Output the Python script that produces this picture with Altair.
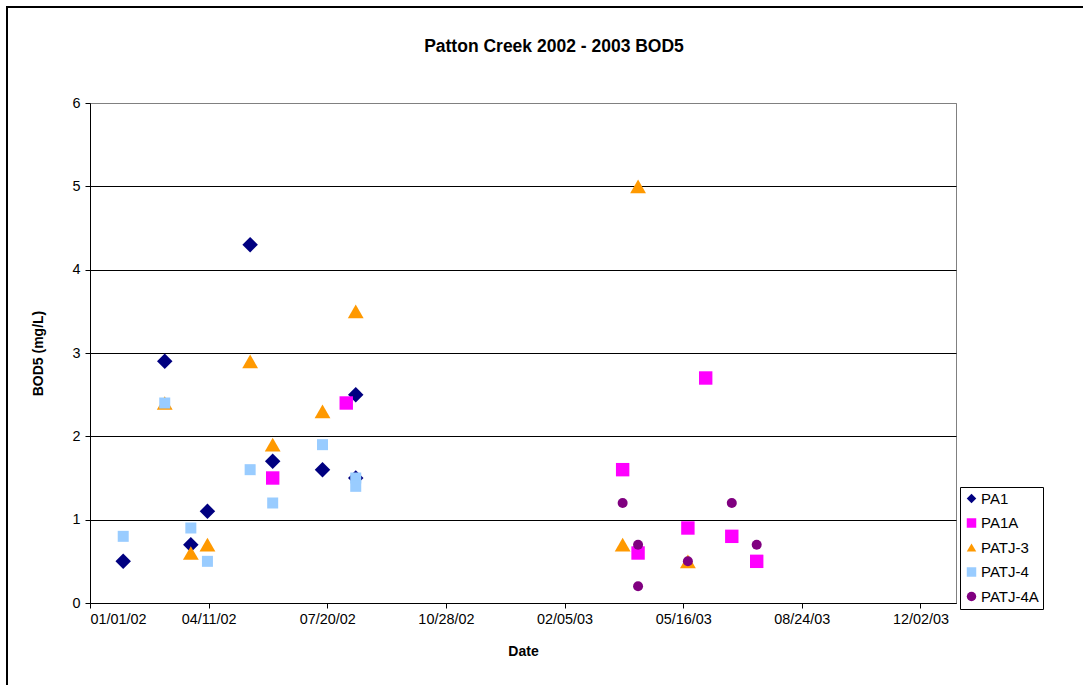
import altair as alt
import pandas as pd

series_names = ["PA1", "PA1A", "PATJ-3", "PATJ-4", "PATJ-4A"]
series_colors = ["#000080", "#FF00FF", "#FF9900", "#99CCFF", "#800080"]
series_shapes = ["diamond", "square", "triangle-up", "square", "circle"]
series_sizes = [240, 180, 250, 121, 100]

pa1_dates = ["2002-01-29", "2002-03-05", "2002-03-27", "2002-04-10", "2002-05-16",
             "2002-06-04", "2002-07-16", "2002-08-13", "2002-08-13"]
pa1_vals = [0.5, 2.9, 0.7, 1.1, 4.3, 1.7, 1.6, 2.5, 1.5]

pa1a_dates = ["2002-06-04", "2002-08-05", "2003-03-26", "2003-04-08", "2003-05-20",
              "2003-06-04", "2003-06-26", "2003-07-17"]
pa1a_vals = [1.5, 2.4, 1.6, 0.6, 0.9, 2.7, 0.8, 0.5]

patj3_dates = ["2002-03-05", "2002-03-27", "2002-04-10", "2002-05-16", "2002-06-04",
               "2002-07-16", "2002-08-13", "2003-03-26", "2003-04-08", "2003-05-20"]
patj3_vals = [2.4, 0.6, 0.7, 2.9, 1.9, 2.3, 3.5, 0.7, 5.0, 0.5]

patj4_dates = ["2002-01-29", "2002-03-05", "2002-03-27", "2002-04-10", "2002-05-16",
               "2002-06-04", "2002-07-16", "2002-08-13", "2002-08-13"]
patj4_vals = [0.8, 2.4, 0.9, 0.5, 1.6, 1.2, 1.9, 1.5, 1.4]

patj4a_dates = ["2003-03-26", "2003-04-08", "2003-04-08", "2003-05-20", "2003-06-26", "2003-07-17"]
patj4a_vals = [1.2, 0.7, 0.2, 0.5, 1.2, 0.7]

y_ticks = [0, 1, 2, 3, 4, 5, 6]
x_tick_dates = [(2002, 1, 1), (2002, 4, 11), (2002, 7, 20), (2002, 10, 28),
                (2003, 2, 5), (2003, 5, 16), (2003, 8, 24), (2003, 12, 2)]

all_dates = [pa1_dates, pa1a_dates, patj3_dates, patj4_dates, patj4a_dates]
all_vals = [pa1_vals, pa1a_vals, patj3_vals, patj4_vals, patj4a_vals]

FONT = "Liberation Sans"

x_enc = alt.X("date:T",
              scale=alt.Scale(type="utc",
                              domain=[alt.DateTime(year=2002, month=1, date=1, utc=True),
                                      alt.DateTime(year=2004, month=1, date=1, utc=True)],
                              nice=False),
              axis=alt.Axis(values=[alt.DateTime(year=y, month=m, date=d, utc=True) for y, m, d in x_tick_dates],
                            labelExpr="utcFormat(datum.value, '%m/%d/%y')", grid=False,
                            tickSize=5, labelPadding=4,
                            titleX=433, titleY=48, titleBaseline="middle", titleAlign="center"),
              title="Date")
y_enc = alt.Y("value:Q",
              scale=alt.Scale(domain=[0, 6], nice=False, zero=True),
              axis=alt.Axis(values=y_ticks, grid=True, tickSize=5, labelPadding=5,
                            gridColor={"condition": {"test": "datum.value === 6", "value": "#808080"},
                                       "value": "#000000"},
                            titleAngle=270, titleX=-52, titleY=250,
                            titleBaseline="middle", titleAlign="center"),
              title="BOD5 (mg/L)")
color_enc = alt.Color("series:N",
                      scale=alt.Scale(domain=series_names, range=series_colors),
                      legend=alt.Legend(title=None, orient="none", legendX=870, legendY=384,
                                        strokeColor="black", fillColor="white",
                                        padding=4, rowPadding=8.5, labelFontSize=15,
                                        labelFont=FONT, labelColor="black",
                                        symbolSize=90, labelOffset=2,
                                        symbolStrokeWidth=0, symbolOpacity=1))
shape_enc = alt.Shape("series:N", scale=alt.Scale(domain=series_names, range=series_shapes))

layers = []
border = alt.Chart(alt.Data(values=[{}])).mark_rect(
    fillOpacity=0, stroke="black", strokeWidth=2
).encode(x=alt.value(-83), x2=alt.value(1120), y=alt.value(-96), y2=alt.value(720))
layers.append(border)

for name, dates, vals, sz in zip(series_names, all_dates, all_vals, series_sizes):
    sdf = pd.DataFrame({"series": [name] * len(dates), "date": dates, "value": vals})
    layers.append(
        alt.Chart(sdf).mark_point(filled=True, opacity=1, strokeWidth=0, size=sz).encode(
            x=x_enc, y=y_enc, color=color_enc, shape=shape_enc)
    )

chart = alt.layer(*layers).properties(
    width=866, height=500,
    padding={"left": 90, "top": 103, "right": 127, "bottom": 82},
    autosize=alt.AutoSizeParams(type="none"),
    background="white",
    title=alt.TitleParams("Patton Creek 2002 - 2003 BOD5", fontSize=17.5, fontWeight="bold",
                          font=FONT, color="black", anchor="middle", dx=31, offset=0, dy=63,
                          baseline="alphabetic"),
).configure_view(stroke="#808080", strokeWidth=1).configure_axis(
    domainColor="black", tickColor="black", labelColor="black",
    labelFont=FONT, labelFontSize=14.4, titleFont=FONT, titleFontSize=14,
    titleFontWeight="bold", titleColor="black", gridWidth=1,
)

chart.save("out.html", embed_options={"renderer": "svg", "actions": False})
